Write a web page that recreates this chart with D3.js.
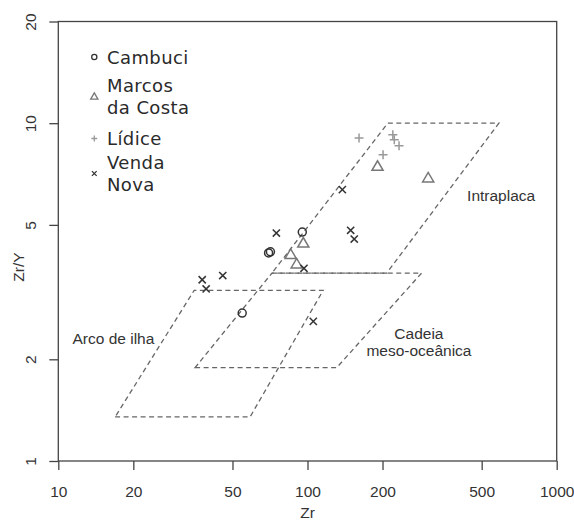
<!DOCTYPE html>
<html>
<head>
<meta charset="utf-8">
<script src="https://cdn.jsdelivr.net/npm/d3@7"></script>
<style>
body { margin: 0; background: #fff; }
</style>
</head>
<body>
<script>
//--------------------------------data-----------------------------------------------
var xTicks = [10, 20, 50, 100, 200, 500, 1000];
var yTicks = [1, 2, 5, 10, 20];

var groupNames = ["Cambuci", "Marcos da Costa", "Lídice", "Venda Nova"];

var cambuciZr  = [95.3, 69.8, 71.0, 54.7];
var cambuciZrY = [4.76, 4.13, 4.16, 2.74];

var marcosZr  = [191, 305, 96.2, 85.6, 90.5];
var marcosZrY = [7.49, 6.92, 4.44, 4.11, 3.85];

var lidiceZr  = [161, 220, 223, 233, 201];
var lidiceZrY = [9.04, 9.25, 8.94, 8.58, 8.07];

var vendaZr  = [138, 75, 149, 154, 96.8, 45.7, 37.8, 39.2, 105.5];
var vendaZrY = [6.36, 4.73, 4.82, 4.54, 3.72, 3.54, 3.44, 3.23, 2.59];

// discrimination fields (Zr, Zr/Y)
var intraplacaField = [[72, 3.6], [208, 3.6], [586, 10], [210, 10]];
var cadeiaField     = [[35.4, 1.89], [131, 1.89], [287, 3.6], [72, 3.6]];
var arcoField       = [[16.9, 1.35], [58.8, 1.35], [115.6, 3.2], [35.1, 3.2]];

//--------------------------------svg------------------------------------------------
var width = 574, height = 522;
var margin = {left: 58.3, right: 17.3, top: 21.5, bottom: 61};

var svg = d3.select("body").append("svg")
	.attr("width", width)
	.attr("height", height);

var x = d3.scaleLog().domain([10, 1000]).range([margin.left, width - margin.right]);
var y = d3.scaleLog().domain([1, 20]).range([height - margin.bottom, margin.top]);

var axisFont = "'Liberation Sans', Arial, sans-serif";
var legendFont = "'DejaVu Sans', sans-serif";

// x axis
var gx = svg.append("g")
	.attr("transform", "translate(0," + (height - margin.bottom) + ")")
	.call(d3.axisBottom(x).tickValues(xTicks).tickFormat(d3.format("d")).tickSize(9).tickSizeOuter(0).tickPadding(16));
gx.select(".domain").remove();
gx.selectAll(".tick line").attr("stroke", "#444").attr("stroke-width", 1.3);
gx.selectAll(".tick text").attr("fill", "#333").attr("font-family", axisFont).attr("font-size", 15.5);

// y axis, labels turned like R does
var gy = svg.append("g")
	.attr("transform", "translate(" + margin.left + ",0)")
	.call(d3.axisLeft(y).tickValues(yTicks).tickFormat(d3.format("d")).tickSize(9).tickSizeOuter(0));
gy.select(".domain").remove();
gy.selectAll(".tick line").attr("stroke", "#444").attr("stroke-width", 1.3);
gy.selectAll(".tick text")
	.attr("x", 0).attr("dy", null)
	.attr("text-anchor", "middle")
	.attr("transform", "translate(-22,0) rotate(-90)")
	.attr("fill", "#333").attr("font-family", axisFont).attr("font-size", 15.5);

// frame
svg.append("rect")
	.attr("x", x(10)).attr("y", y(20))
	.attr("width", x(1000) - x(10)).attr("height", y(1) - y(20))
	.attr("fill", "none").attr("stroke", "#444").attr("stroke-width", 1.3);

// axis titles
svg.append("text")
	.attr("x", (x(10) + x(1000)) / 2).attr("y", 518)
	.attr("text-anchor", "middle")
	.attr("font-family", axisFont).attr("font-size", 15.5).attr("fill", "#333")
	.text("Zr");
svg.append("text")
	.attr("transform", "translate(23.5,267) rotate(-90)")
	.attr("text-anchor", "middle")
	.attr("font-family", axisFont).attr("font-size", 15.5).attr("fill", "#333")
	.text("Zr/Y");

//--------------------------------fields---------------------------------------------
var fieldLine = d3.line().x(d => x(d[0])).y(d => y(d[1]));
[intraplacaField, cadeiaField, arcoField].forEach(f => {
	svg.append("path")
		.attr("d", fieldLine(f) + "Z")
		.attr("fill", "none")
		.attr("stroke", "#666")
		.attr("stroke-width", 1.3)
		.attr("stroke-dasharray", "5,3.5");
});

// field names
function fieldLabel(zr, zry, lines, anchor) {
	var t = svg.append("text")
		.attr("x", x(zr)).attr("y", y(zry))
		.attr("text-anchor", anchor)
		.attr("font-family", axisFont).attr("font-size", 15.5).attr("fill", "#333");
	lines.forEach((l, i) => {
		t.append("tspan").attr("x", x(zr)).attr("dy", i == 0 ? 0 : 16.7).text(l);
	});
}
fieldLabel(437, 5.88, ["Intraplaca"], "start");
fieldLabel(11.4, 2.22, ["Arco de ilha"], "start");
fieldLabel(280, 2.30, ["Cadeia", "meso-oceânica"], "middle");

//--------------------------------symbols--------------------------------------------
function drawSymbol(g, kind, cx, cy, s, color, lw) {
	if (kind == "circle") {
		g.append("circle").attr("cx", cx).attr("cy", cy).attr("r", s)
			.attr("fill", "none").attr("stroke", color).attr("stroke-width", lw);
	} else if (kind == "triangle") {
		var h = s * 1.8;
		g.append("path")
			.attr("d", "M" + (cx - s * 1.05) + "," + (cy + h / 2) + "L" + (cx + s * 1.05) + "," + (cy + h / 2) + "L" + cx + "," + (cy - h / 2) + "Z")
			.attr("fill", "none").attr("stroke", color).attr("stroke-width", lw);
	} else if (kind == "plus") {
		g.append("path")
			.attr("d", "M" + (cx - s) + "," + cy + "H" + (cx + s) + "M" + cx + "," + (cy - s) + "V" + (cy + s))
			.attr("stroke", color).attr("stroke-width", lw);
	} else {
		g.append("path")
			.attr("d", "M" + (cx - s) + "," + (cy - s) + "L" + (cx + s) + "," + (cy + s) + "M" + (cx - s) + "," + (cy + s) + "L" + (cx + s) + "," + (cy - s))
			.attr("stroke", color).attr("stroke-width", lw);
	}
}

var groups = [
	{kind: "circle",   zr: cambuciZr, zry: cambuciZrY, color: "#333", size: 4},
	{kind: "triangle", zr: marcosZr,  zry: marcosZrY,  color: "#777", size: 5.3},
	{kind: "plus",     zr: lidiceZr,  zry: lidiceZrY,  color: "#999", size: 4.5},
	{kind: "cross",    zr: vendaZr,   zry: vendaZrY,   color: "#333", size: 3.6}
];

var pts = svg.append("g");
groups.forEach(gr => {
	gr.zr.forEach((v, i) => {
		drawSymbol(pts, gr.kind, x(v), y(gr.zry[i]), gr.size, gr.color, 1.5);
	});
});

//--------------------------------legend---------------------------------------------
var legendRows = [
	{lines: ["Cambuci"], cy: 57},
	{lines: ["Marcos", "da Costa"], cy: 96},
	{lines: ["Lídice"], cy: 138.5},
	{lines: ["Venda", "Nova"], cy: 173.5}
];
var legend = svg.append("g");
legendRows.forEach((r, i) => {
	var gr = groups[i];
	drawSymbol(legend, gr.kind, 94.3, r.cy, gr.size * 0.65, gr.color, 1.3);
	var lh = 22;
	var top = r.cy - (r.lines.length - 1) * lh / 2;
	var t = legend.append("text")
		.attr("font-family", legendFont).attr("font-size", 18).attr("fill", "#2a2a2a")
		.attr("letter-spacing", 0.4);
	r.lines.forEach((l, j) => {
		t.append("tspan").attr("x", 107).attr("y", top + j * lh + 6.6).text(l);
	});
	t.attr("data-name", groupNames[i]);
});
</script>
</body>
</html>
